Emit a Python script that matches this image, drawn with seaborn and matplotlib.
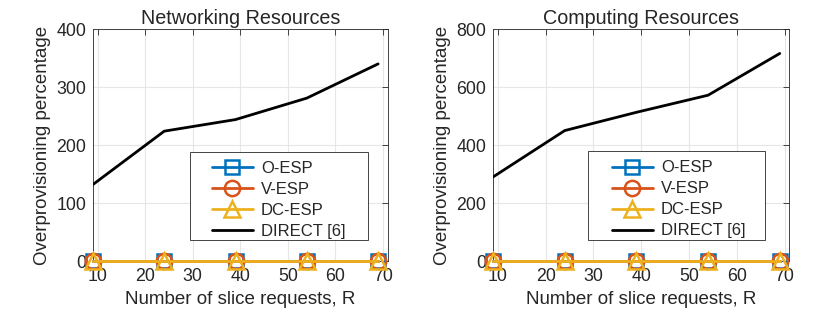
import numpy as np
import pandas as pd
import seaborn as sns
import matplotlib.pyplot as plt
from matplotlib.patches import Rectangle

# Data
requests = [9, 24, 39, 54, 69]
o_esp = [0, 0, 0, 0, 0]
v_esp = [0, 0, 0, 0, 0]
dc_esp = [0, 0, 0, 0, 0]
direct_net = [132, 224, 244, 281, 340]
direct_comp = [290, 450, 513, 572, 716]

titles = ['Networking Resources', 'Computing Resources']
ylims = [400, 800]
yticks = [[0, 100, 200, 300, 400], [0, 200, 400, 600, 800]]
xticks = [10, 20, 30, 40, 50, 60, 70]

sns.set_style('white')
plt.rcParams['font.family'] = ['Liberation Sans', 'DejaVu Sans']

fig = plt.figure(figsize=(8.3, 3.13), dpi=100)
ax1 = fig.add_axes([0.112, 0.166, 0.355, 0.741])
ax2 = fig.add_axes([0.594, 0.166, 0.357, 0.741])

series = [
    ('O-ESP', o_esp, '#0072BD', 's', 10),
    ('V-ESP', v_esp, '#D95319', 'o', 11),
    ('DC-ESP', dc_esp, '#EDB120', '^', 12),
]

# legend box (axes fraction): x0, x1, y0, y1, handle start
boxes = [(0.329, 0.932, 0.09, 0.47, 0.403), (0.321, 0.919, 0.09, 0.474, 0.401)]

for ax, title, direct, ymax, yt, box in zip([ax1, ax2], titles, [direct_net, direct_comp],
                                            ylims, yticks, boxes):
    for name, vals, col, mk, ms in series:
        sns.lineplot(x=requests, y=vals, ax=ax, color=col, marker=mk, markersize=ms,
                     markerfacecolor='none', markeredgecolor=col, markeredgewidth=1.8,
                     linewidth=2, label=name, clip_on=False, zorder=3)
    sns.lineplot(x=requests, y=direct, ax=ax, color='black', linewidth=2,
                 label='DIRECT [6]', zorder=3)
    ax.set_xlim(9, 71)
    ax.set_ylim(0, ymax)
    ax.set_xticks(xticks)
    ax.set_yticks(yt)
    ax.grid(True, color='#e6e6e6', linewidth=0.8)
    ax.set_axisbelow(True)
    for s in ax.spines.values():
        s.set_color('#262626')
        s.set_linewidth(0.6)
    ax.tick_params(direction='in', length=4, width=0.6, colors='#262626',
                   labelsize=12.8, top=True, right=True, pad=5)
    ax.set_title(title, fontsize=14.2, pad=4)
    ax.set_xlabel('Number of slice requests, R', fontsize=13.5, color='#262626')
    ax.set_ylabel('Overprovisioning percentage', fontsize=13.5, color='#262626')
    x0, x1, y0, y1, hx = box
    ax.add_patch(Rectangle((x0, y0), x1 - x0, y1 - y0, transform=ax.transAxes,
                           facecolor='white', edgecolor='#262626', linewidth=0.6,
                           zorder=4, clip_on=False))
    leg = ax.legend(loc='upper left', bbox_to_anchor=(hx, y1 - 0.04), fontsize=12,
                    frameon=False, handlelength=2.45, borderpad=0,
                    labelspacing=0.36, handletextpad=0.5, borderaxespad=0)
    leg.set_zorder(5)

plt.savefig('out.png', dpi=100)
